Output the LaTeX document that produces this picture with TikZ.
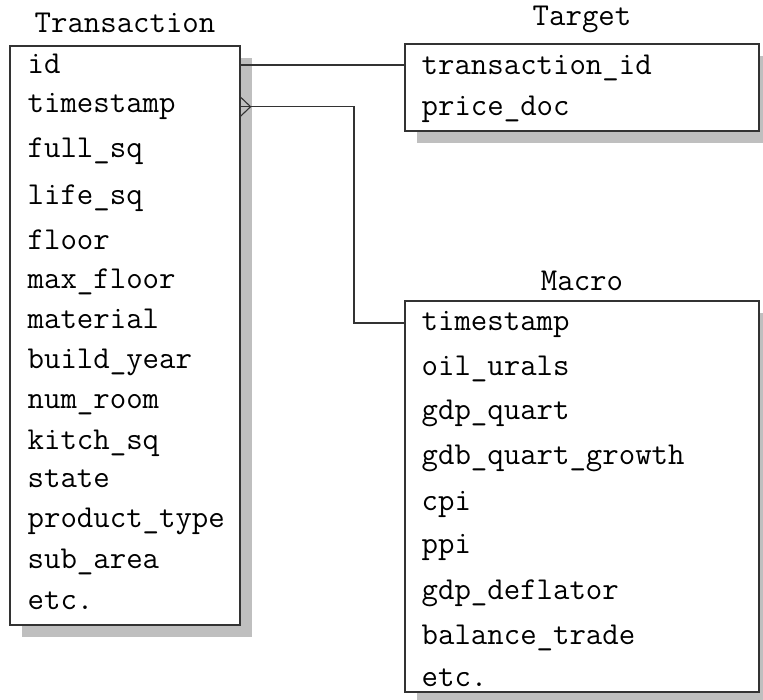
\documentclass[tikz,border=0pt]{standalone}
\usetikzlibrary{shadows}
\begin{document}
\begin{tikzpicture}[x=1pt,y=-1pt,
  tbl/.style={rectangle, draw=black!80, line width=1.2pt, fill=white, inner sep=0pt,
    drop shadow={fill=black!25, opacity=1, shadow xshift=12pt, shadow yshift=-12pt}},
  row/.style={anchor=base west, inner sep=0pt, text height=14pt, text depth=0pt,
    font=\fontsize{31.9}{36}\selectfont\ttfamily},
  ttl/.style={anchor=base, inner sep=0pt, font=\fontsize{31.9}{36}\selectfont\ttfamily},
  conn/.style={draw=black!80, line width=1.1pt}]
\useasboundingbox (0,0) rectangle (763,700);
\clip (0,0) rectangle (763,700);
\fill[white] (0,0) rectangle (763,700);

% tables
\node[tbl, minimum width=230pt, minimum height=579pt] (trans) at (125,335.5) {};
\node[tbl, minimum width=354pt, minimum height=87pt] (target) at (582,87.5) {};
\node[tbl, minimum width=354pt, minimum height=391pt] (macro) at (582,496.5) {};

% titles
\node[ttl] (transT) at (125,33) {Transaction};
\node[ttl] (targetT) at (582,26) {Target};
\node[ttl] (macroT) at (582,291) {Macro};

% Transaction rows
\node[row] (tid) at (27.5,74) {id};
\node[row] (tts) at (27.5,113) {timestamp};
\node[row] (tfs) at (27.5,158) {full\_sq};
\node[row] (tls) at (27.5,205) {life\_sq};
\node[row] (tfl) at (27.5,250) {floor};
\node[row] (tmf) at (27.5,289) {max\_floor};
\node[row] (tma) at (27.5,329) {material};
\node[row] (tby) at (27.5,369) {build\_year};
\node[row] (tnr) at (27.5,409) {num\_room};
\node[row] (tks) at (27.5,449) {kitch\_sq};
\node[row] (tst) at (27.5,487) {state};
\node[row] (tpt) at (27.5,527) {product\_type};
\node[row] (tsa) at (27.5,568) {sub\_area};
\node[row] (tet) at (27.5,609) {etc.};

% Target rows
\node[row] (gtid) at (421.5,75) {transaction\_id};
\node[row] (gpd) at (421.5,116) {price\_doc};

% Macro rows
\node[row] (mts) at (421.5,330.5) {timestamp};
\node[row] (mou) at (421.5,375.5) {oil\_urals};
\node[row] (mgq) at (421.5,419) {gdp\_quart};
\node[row] (mgg) at (421.5,464) {gdb\_quart\_growth};
\node[row] (mcp) at (421.5,510) {cpi};
\node[row] (mpp) at (421.5,553) {ppi};
\node[row] (mgd) at (421.5,599) {gdp\_deflator};
\node[row] (mbt) at (421.5,644) {balance\_trade};
\node[row] (met) at (421.5,686) {etc.};

% connector levels
\coordinate (idy) at ([yshift=10pt]gtid.base);
\coordinate (tsy) at ([yshift=6.3pt]tts.base);
\coordinate (msy) at ([yshift=7.5pt]mts.base);
\coordinate (bend) at (354,200);

% connectors
\draw[conn] (trans.east |- idy) -- (target.west |- idy);
\draw[conn] (trans.east |- tsy) -| (bend) |- (macro.west |- msy);
\draw[conn] ([yshift=9.5pt]trans.east |- tsy) -- ([xshift=10pt]trans.east |- tsy) -- ([yshift=-9.5pt]trans.east |- tsy);
\end{tikzpicture}
\end{document}
